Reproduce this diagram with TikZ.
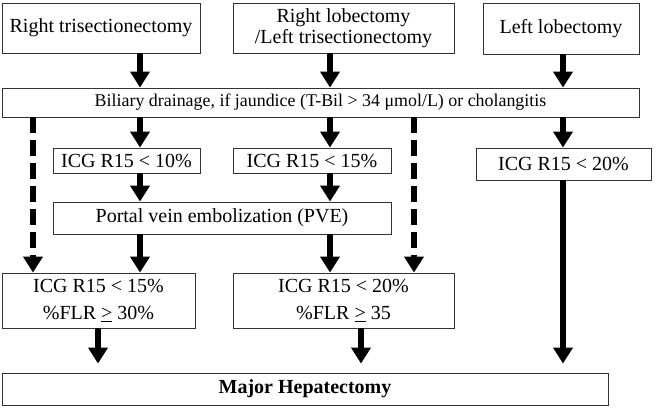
\documentclass[tikz,border=0pt]{standalone}
\usepackage{fontspec}
\setmainfont{Liberation Serif}
\usetikzlibrary{arrows.meta,calc}
\begin{document}
\begin{tikzpicture}[x=1pt,y=-1pt,
  box/.style={draw=black!80,line width=0.9pt,inner sep=0pt,align=center,font=\fontsize{20}{21}\selectfont},
  arr/.style={line width=6pt,-{Triangle[length=16pt,width=19pt]}},
  darr/.style={arr,dash pattern=on 16pt off 7pt}]
\useasboundingbox (0,0) rectangle (656,407);
% nodes
\node[box,minimum width=198pt,minimum height=50pt] (rt) at (101,28) {Right trisectionectomy};
\node[box,minimum width=221pt,minimum height=50pt] (rl) at (343.5,28) {Right lobectomy\\/Left trisectionectomy};
\node[box,minimum width=156pt,minimum height=51pt] (ll) at (561,28.5) {Left lobectomy};
\node[box,minimum width=637pt,minimum height=29pt,font=\fontsize{17.9}{20}\selectfont] (bil) at (320.5,102.5) {Biliary drainage, if jaundice (T-Bil > 34 μmol/L) or cholangitis};
\node[box,minimum width=147pt,minimum height=25pt] (i10) at (126.5,160.5) {ICG R15 < 10\%};
\node[box,minimum width=158pt,minimum height=25pt] (i15) at (312,160.5) {ICG R15 < 15\%};
\node[box,minimum width=175pt,minimum height=32pt] (i20) at (563.5,164) {ICG R15 < 20\%};
\node[box,minimum width=338pt,minimum height=32pt] (pve) at (222,218) {Portal vein embolization (PVE)};
\node[box,minimum width=193pt,minimum height=55pt,font=\fontsize{20}{27}\selectfont] (b1) at (98.5,300.5) {ICG R15 < 15\%\\\%FLR \underline{>} 30\%};
\node[box,minimum width=221pt,minimum height=55pt,font=\fontsize{20}{27}\selectfont] (b2) at (343.5,300.5) {ICG R15 < 20\%\\\%FLR \underline{>} 35};
\node[box,minimum width=606pt,minimum height=32pt,font=\fontsize{20}{21}\selectfont\bfseries] (maj) at (305,389) {Major Hepatectomy};
% column coordinates
\coordinate (cA) at (33,0);
\coordinate (cB) at (140,0);
\coordinate (cC) at (330,0);
\coordinate (cD) at (414,0);
\coordinate (cE) at (563,0);
\coordinate (cF) at (98,0);
\coordinate (cG) at (361,0);
% arrows
\draw[arr] (rt.south -| cB) -- (bil.north -| cB);
\draw[arr] (rl.south -| cC) -- (bil.north -| cC);
\draw[arr] (ll.south -| cE) -- (bil.north -| cE);
\draw[arr] (bil.south -| cB) -- (i10.north -| cB);
\draw[arr] (bil.south -| cC) -- (i15.north -| cC);
\draw[arr] (bil.south -| cE) -- (i20.north -| cE);
\draw[darr] (bil.south -| cA) -- (b1.north -| cA);
\draw[darr] (bil.south -| cD) -- (b2.north -| cD);
\draw[arr] (i10.south -| cB) -- (pve.north -| cB);
\draw[arr] (i15.south -| cC) -- (pve.north -| cC);
\draw[arr] (pve.south -| cB) -- (b1.north -| cB);
\draw[arr] (pve.south -| cC) -- (b2.north -| cC);
\draw[arr] (b1.south -| cF) -- ([yshift=9pt]maj.north -| cF);
\draw[arr] (b2.south -| cG) -- ([yshift=9pt]maj.north -| cG);
\draw[arr] (i20.south -| cE) -- ([yshift=9pt]maj.north -| cE);
\end{tikzpicture}
\end{document}
